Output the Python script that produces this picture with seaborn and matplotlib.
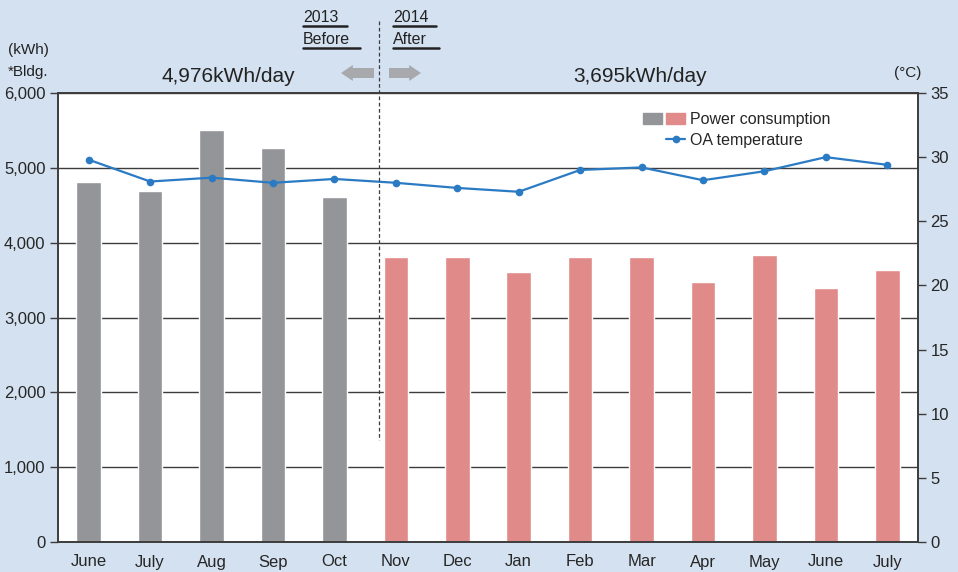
import numpy as np
import pandas as pd
import seaborn as sns
import matplotlib.pyplot as plt
from matplotlib.lines import Line2D
from matplotlib.patches import Patch
from matplotlib.legend_handler import HandlerTuple
from matplotlib.ticker import FuncFormatter


months = ['June', 'July', 'Aug', 'Sep', 'Oct', 'Nov', 'Dec', 'Jan',
          'Feb', 'Mar', 'Apr', 'May', 'June', 'July']
power_kwh = [4810, 4690, 5500, 5260, 4610, 3810, 3810, 3610,
             3810, 3810, 3480, 3840, 3400, 3630]
oa_temp = [29.8, 28.1, 28.4, 28.0, 28.3, 28.0, 27.6, 27.3,
           29.0, 29.2, 28.2, 28.9, 30.0, 29.4]
period = ['Before'] * 5 + ['After'] * 9

BG = '#d4e1f0'
GRAY = '#939598'
PINK = '#e08a8a'
BLUE = '#2a7bc4'
DARK = '#3c3c3c'
W, H = 958, 572

sns.set_theme(style='white')
plt.rcParams['font.family'] = ['Liberation Sans', 'DejaVu Sans']


def fig_xy(x, y):
    # pixel position (from top-left) -> figure fraction
    return x / W, 1 - y / H


df = pd.DataFrame({'slot': np.arange(len(months)), 'month': months,
                   'power': power_kwh, 'temp': oa_temp, 'period': period})

fig = plt.figure(figsize=(W / 100, H / 100), dpi=100, facecolor=BG)
ax = fig.add_axes([58 / W, 30 / H, 860 / W, 449 / H])
ax.set_facecolor('white')

sns.barplot(data=df, x='slot', y='power', hue='period', dodge=False,
            palette={'Before': GRAY, 'After': PINK}, width=0.4,
            saturation=1, legend=False, ax=ax)
ax.set_axisbelow(True)
ax.set_ylim(0, 6000)
ax.set_yticks(range(0, 6001, 1000))
ax.yaxis.set_major_formatter(FuncFormatter(lambda v, p: '{:,.0f}'.format(v)))
ax.grid(axis='y', color=DARK, linewidth=1)
ax.set_xlim(-0.5, len(months) - 0.5)
ax.set_xticks(df['slot'])
ax.set_xticklabels(months, fontsize=12)
ax.set_xticks(np.arange(-0.5, len(months), 1), minor=True)
ax.tick_params(axis='x', which='major', length=0, pad=9)
ax.tick_params(axis='x', which='minor', length=7, width=1, color=DARK, direction='out')
ax.tick_params(axis='y', length=6, width=1, color=DARK, direction='out',
               labelsize=12, pad=3, left=True)
ax.set_xlabel('')
ax.set_ylabel('')
for s in ax.spines.values():
    s.set_color(DARK)
    s.set_linewidth(1.2)

ax2 = ax.twinx()
sns.lineplot(data=df, x='slot', y='temp', ax=ax2, color=BLUE, linewidth=1.6,
             marker='o', markersize=5.5, markeredgewidth=0)
ax2.set_ylim(0, 35)
ax2.set_yticks(range(0, 36, 5))
ax2.tick_params(axis='y', length=6, width=1, color=DARK, direction='out',
                labelsize=12, pad=3, right=True)
ax2.set_ylabel('')
ax2.set_xlabel('')
for s in ax2.spines.values():
    s.set_color(DARK)
    s.set_linewidth(1.2)

# before / after divider
fig.add_artist(Line2D([379 / W, 379 / W], [1 - 21 / H, 1 - 440 / H],
                      color=DARK, linewidth=0.9, linestyle=(0, (3, 2))))

# year headers with underlines
for label, x0, y0, x1 in [('2013', 303, 17, 347), ('Before', 303, 39, 360),
                          ('2014', 393, 17, 436), ('After', 393, 39, 439)]:
    fx, fy = fig_xy(x0, y0)
    fig.text(fx, fy, label, fontsize=11.5, ha='left', va='center', color='#222222')
    uy = 1 - (y0 + 9) / H
    fig.add_artist(Line2D([x0 / W, x1 / W], [uy, uy], color='#222222', linewidth=1.8))

fig.text(*fig_xy(8, 50), '(kWh)', fontsize=11, ha='left', va='center', color='#222222')
fig.text(*fig_xy(8, 72), '*Bldg.', fontsize=11, ha='left', va='center', color='#222222')
fig.text(*fig_xy(908, 73), '(°C)', fontsize=11, ha='center', va='center', color='#222222')

fig.text(*fig_xy(228, 77), '4,976kWh/day', fontsize=15, ha='center', va='center',
         color='#222222')
fig.text(*fig_xy(640, 77), '3,695kWh/day', fontsize=15, ha='center', va='center',
         color='#222222')

arrow = dict(arrowstyle='simple,head_length=0.85,head_width=1.15,tail_width=0.72',
             color='#a7a9ac', mutation_scale=10, shrinkA=0, shrinkB=0, lw=0)
ax.annotate('', xy=(341, H - 73), xytext=(374, H - 73),
            xycoords='figure pixels', textcoords='figure pixels', arrowprops=arrow)
ax.annotate('', xy=(421, H - 73), xytext=(389, H - 73),
            xycoords='figure pixels', textcoords='figure pixels', arrowprops=arrow)

handles = [(Patch(color=GRAY), Patch(color=PINK)),
           (Patch(alpha=0), Line2D([], [], color=BLUE, marker='o', markersize=4.5,
                                   linewidth=1.6))]
ax2.legend(handles, ['Power consumption', 'OA temperature'],
           handler_map={tuple: HandlerTuple(ndivide=None, pad=0.25)},
           loc='upper left', bbox_to_anchor=(629 / W, 1 - 98 / H),
           bbox_transform=fig.transFigure, frameon=False,
           prop={'size': 11.5}, handlelength=2.6, handletextpad=0.35,
           labelspacing=0.35)

fig.savefig('out.png', dpi=100, facecolor=BG)
